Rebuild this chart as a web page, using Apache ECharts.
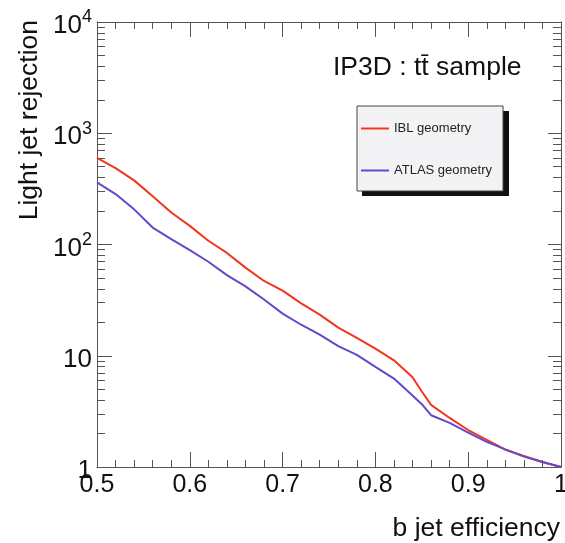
<!DOCTYPE html>
<html>
<head>
<meta charset="utf-8">
<script src="https://cdn.jsdelivr.net/npm/echarts@6/dist/echarts.min.js"></script>
<style>
  html, body { margin: 0; padding: 0; background: #fff; }
  #chart { width: 565px; height: 543px; }
</style>
</head>
<body>
<div id="chart"></div>
<script>
// b jet efficiency sample points
const efficiency = [0.50, 0.52, 0.54, 0.56, 0.58, 0.60, 0.62, 0.64, 0.66, 0.68, 0.70, 0.72, 0.74,
  0.76, 0.78, 0.80, 0.82, 0.84, 0.85, 0.86, 0.88, 0.90, 0.92, 0.94, 0.96, 0.98, 1.00]

// light jet rejection, IBL geometry
const iblRejection = [600, 486, 377, 271, 194, 147, 108, 84, 62, 47, 38.5, 29.6, 23.4,
  17.9, 14.5, 11.6, 9.1, 6.4, 4.77, 3.62, 2.76, 2.15, 1.75, 1.43, 1.26, 1.11, 1.0]

// light jet rejection, ATLAS geometry
const atlasRejection = [362, 284, 207, 142, 112, 89, 70, 53, 42, 32, 23.9, 19, 15.5,
  12.2, 10.2, 7.95, 6.24, 4.39, 3.67, 2.92, 2.49, 2.04, 1.68, 1.44, 1.24, 1.11, 1.0]

// tick values on the log axis
const majorTicks = [1, 10, 100, 1000, 10000]
const minorTicks = [2, 3, 4, 5, 6, 7, 8, 9, 20, 30, 40, 50, 60, 70, 80, 90,
  200, 300, 400, 500, 600, 700, 800, 900, 2000, 3000, 4000, 5000, 6000, 7000, 8000, 9000]

const font = 'Liberation Sans, Arial, Helvetica, sans-serif'
const axisColor = '#555'

const toPairs = vals => efficiency.map((e, i) => [e, vals[i]])

const yLabel = v => {
  if (v === 1) return '{b|1}'
  if (v === 10) return '{b|10}'
  return '{b|10}{s|' + Math.round(Math.log10(v)) + '}'
}

// builds one log y axis (ticks only or with labels)
const logAxis = (position, ticks, len, withLabels) => ({
  type: 'log',
  position: position,
  min: 1,
  max: 10000,
  logBase: 10,
  axisLine: { show: true, lineStyle: { color: axisColor, width: 1 } },
  axisTick: { show: true, inside: true, length: len, customValues: ticks, lineStyle: { color: axisColor } },
  axisLabel: withLabels ? {
    show: true,
    customValues: majorTicks,
    margin: 5,
    formatter: yLabel,
    rich: {
      b: { fontSize: 26, fontFamily: font, color: '#111', padding: [8, 0, 0, 0] },
      s: { fontSize: 18, fontFamily: font, color: '#111', padding: [0, 0, 9, 0] }
    }
  } : { show: false },
  splitLine: { show: false },
  minorTick: { show: false }
})

const xAxisBase = (position, withLabels) => ({
  type: 'value',
  position: position,
  min: 0.5,
  max: 1,
  interval: 0.1,
  axisLine: { show: true, lineStyle: { color: axisColor, width: 1 } },
  axisTick: { show: true, inside: true, length: 15, lineStyle: { color: axisColor } },
  minorTick: { show: true, splitNumber: 5, length: 7, lineStyle: { color: axisColor } },
  axisLabel: withLabels ? {
    show: true,
    margin: 6,
    fontSize: 25,
    fontFamily: font,
    color: '#111',
    formatter: v => (v === 1 ? '1' : v.toFixed(1))
  } : { show: false },
  splitLine: { show: false }
})

const chart = echarts.init(document.getElementById('chart'), null, { renderer: 'canvas' })

chart.setOption({
  animation: false,
  backgroundColor: '#fff',
  grid: { left: 97, right: 4, top: 22, bottom: 76, containLabel: false, outerBoundsMode: 'none' },
  xAxis: [xAxisBase('bottom', true), xAxisBase('top', false)],
  yAxis: [
    logAxis('left', majorTicks, 15, true),
    logAxis('left', minorTicks, 8, false),
    logAxis('right', majorTicks, 13, false),
    logAxis('right', minorTicks, 8, false)
  ],
  legend: {
    orient: 'vertical',
    left: 357,
    top: 106,
    z: 10,
    padding: [16, 11, 14, 4],
    itemGap: 29,
    itemWidth: 28,
    itemHeight: 2,
    icon: 'rect',
    backgroundColor: '#f3f3f6',
    borderColor: '#444',
    borderWidth: 1,
    borderRadius: 0,
    textStyle: { fontSize: 13, fontFamily: font, color: '#222' },
    data: ['IBL geometry', 'ATLAS geometry']
  },
  graphic: [
    {
      // drop shadow behind the legend box
      type: 'rect',
      left: 362,
      top: 111,
      z: 1,
      shape: { width: 147, height: 85 },
      style: { fill: '#111' }
    },
    {
      type: 'text',
      left: 333,
      top: 54,
      style: { text: 'IP3D : tt\u0304 sample', font: '26.5px ' + font, fill: '#111' }
    },
    {
      type: 'text',
      right: 5,
      top: 515,
      style: { text: 'b jet efficiency', font: '26.5px ' + font, fill: '#111' }
    },
    {
      type: 'text',
      left: 16,
      top: 20,
      rotation: Math.PI / 2,
      style: { text: 'Light jet rejection', font: '26.5px ' + font, fill: '#111' }
    }
  ],
  series: [
    {
      name: 'IBL geometry',
      type: 'line',
      xAxisIndex: 0,
      yAxisIndex: 0,
      data: toPairs(iblRejection),
      showSymbol: false,
      symbol: 'none',
      color: '#f2361c',
      lineStyle: { width: 2, color: '#f2361c' }
    },
    {
      name: 'ATLAS geometry',
      type: 'line',
      xAxisIndex: 0,
      yAxisIndex: 0,
      data: toPairs(atlasRejection),
      showSymbol: false,
      symbol: 'none',
      color: '#6548c8',
      lineStyle: { width: 2, color: '#6548c8' }
    }
  ]
})
</script>
</body>
</html>
